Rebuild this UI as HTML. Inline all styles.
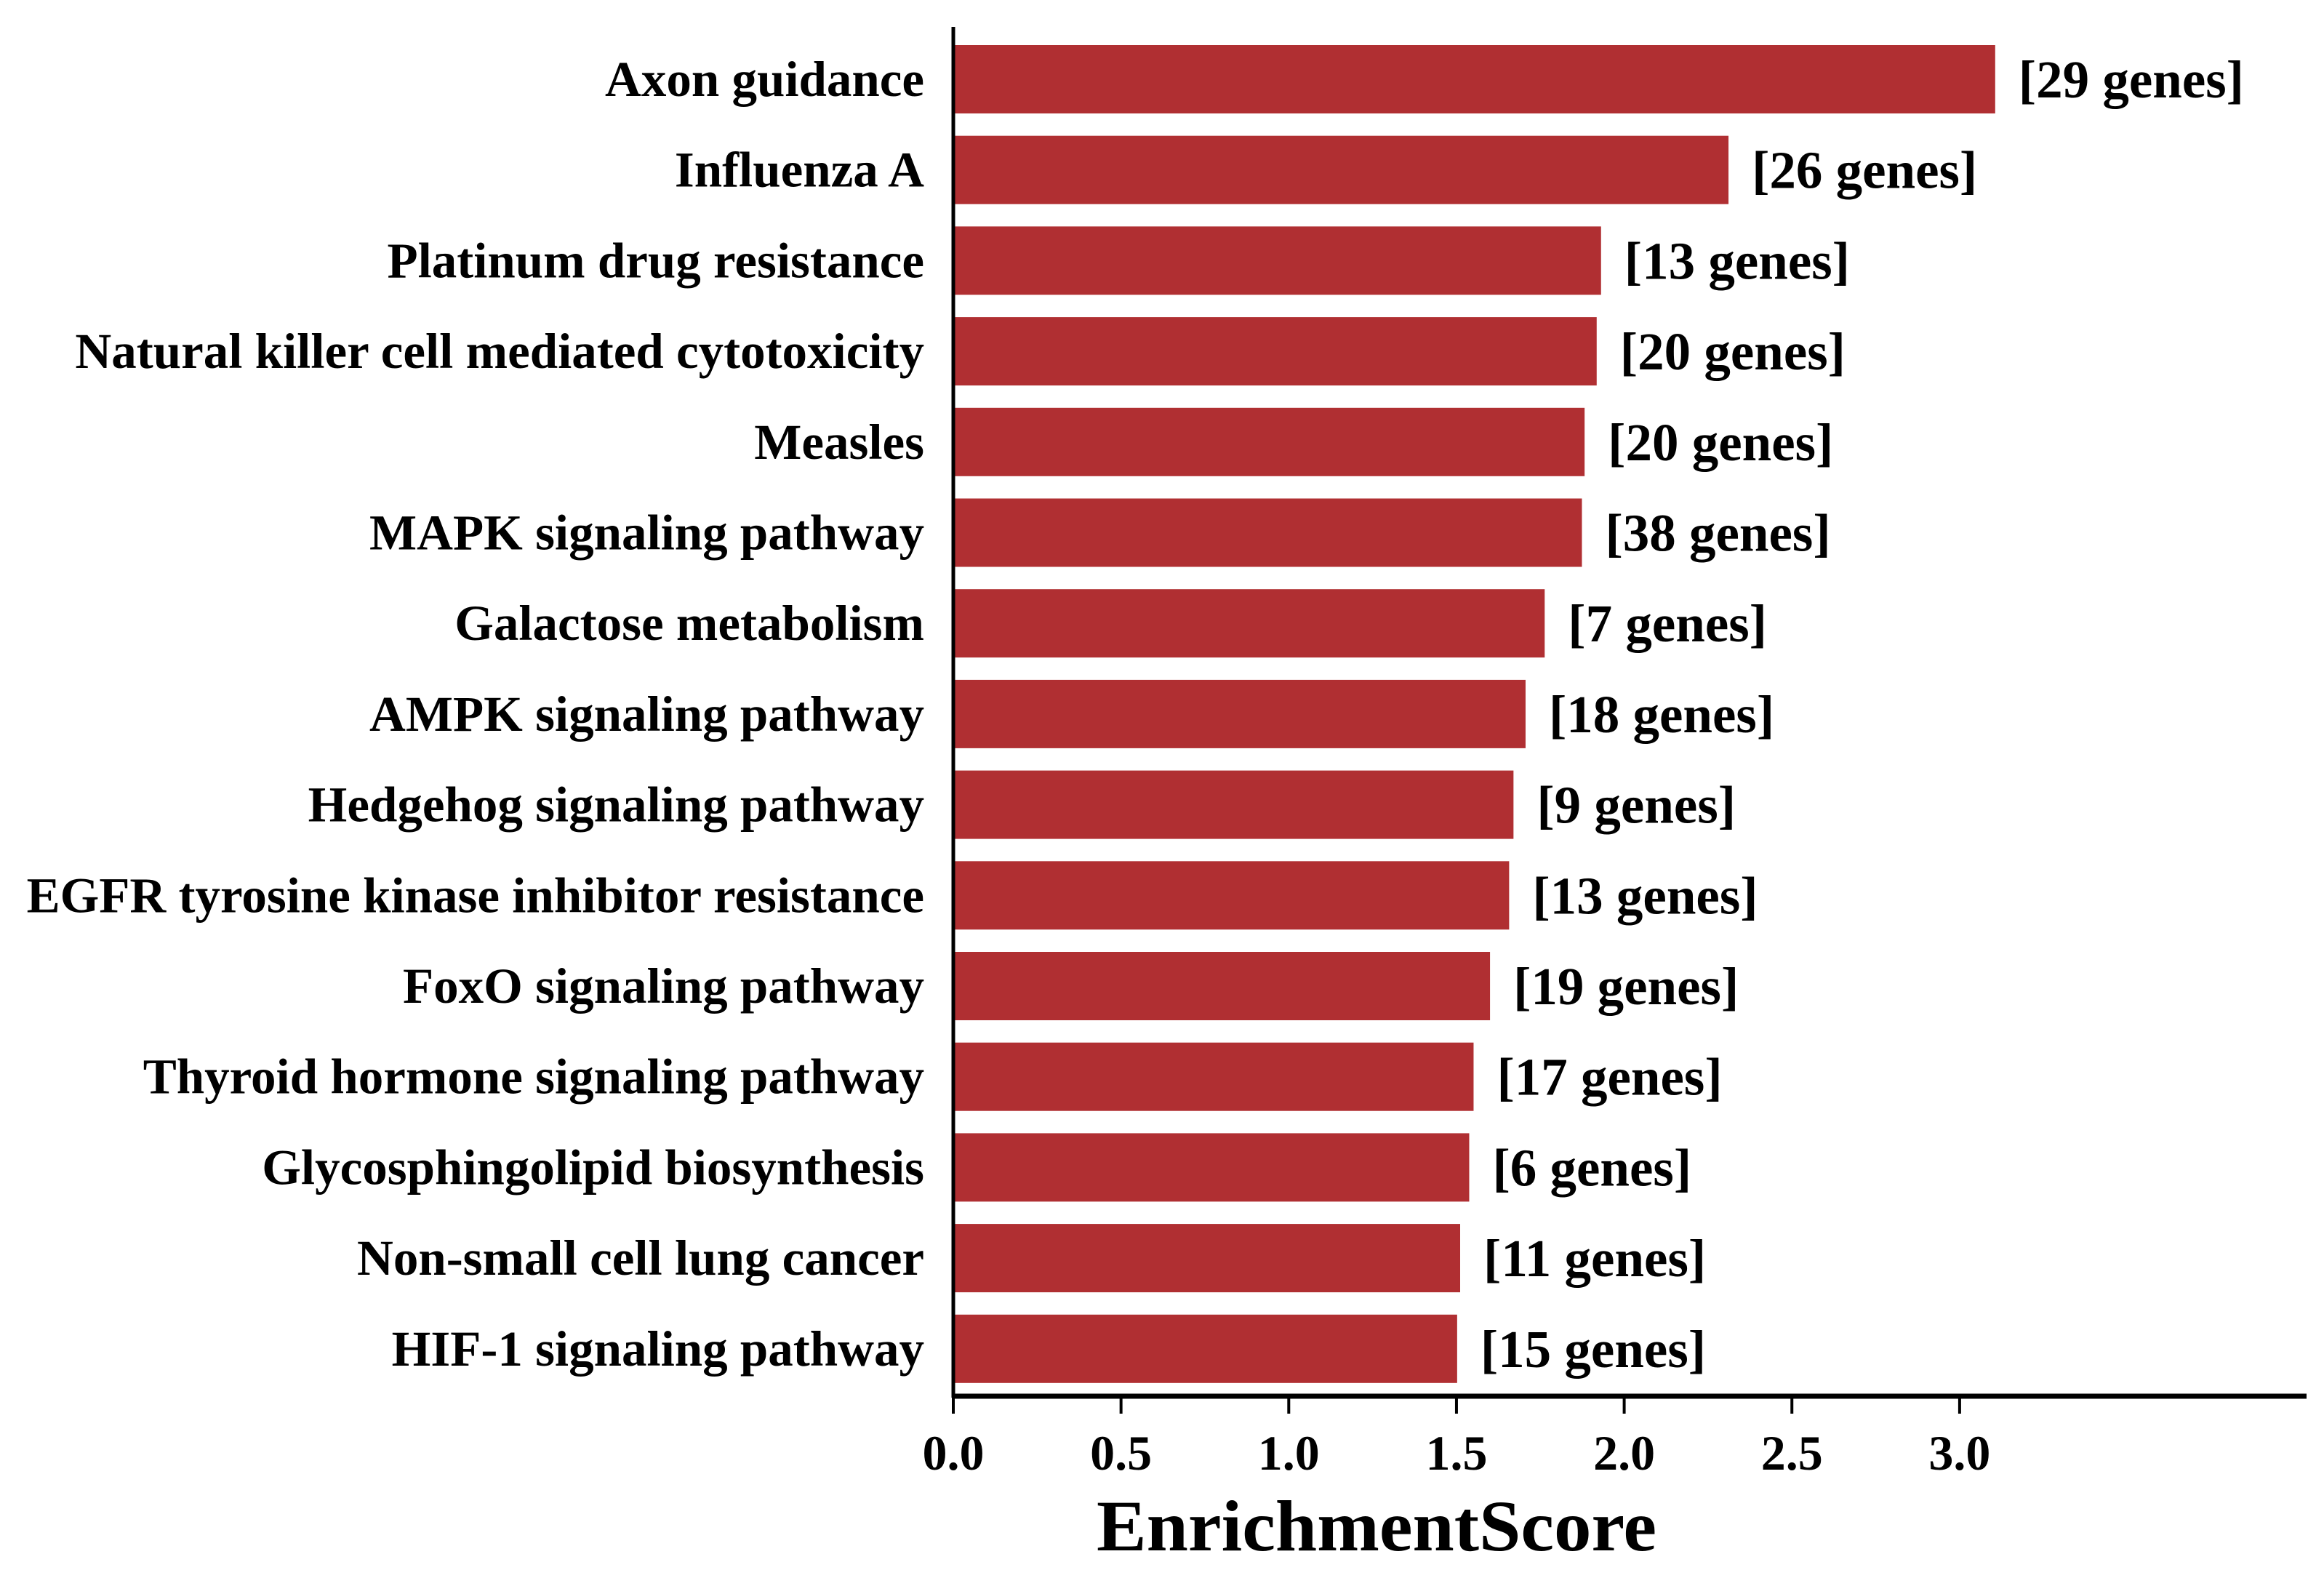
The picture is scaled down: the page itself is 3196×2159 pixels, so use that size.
<!DOCTYPE html>
<html><head><meta charset="utf-8">
<style>
html,body{margin:0;padding:0;background:#fff;}
svg{display:block;font-family:"Liberation Serif",serif;font-weight:bold;}
</style></head>
<body>
<svg id="chart" width="3196" height="2159" viewBox="0 0 3196 2159" xmlns="http://www.w3.org/2000/svg"></svg>
<script>
const categories = ["Axon guidance","Influenza A","Platinum drug resistance","Natural killer cell mediated cytotoxicity","Measles","MAPK signaling pathway","Galactose metabolism","AMPK signaling pathway","Hedgehog signaling pathway","EGFR tyrosine kinase inhibitor resistance","FoxO signaling pathway","Thyroid hormone signaling pathway","Glycosphingolipid biosynthesis","Non-small cell lung cancer","HIF-1 signaling pathway"];
const scores = [3.106,2.311,1.931,1.918,1.882,1.874,1.763,1.706,1.670,1.657,1.600,1.551,1.538,1.511,1.502];
const geneCounts = [29,26,13,20,20,38,7,18,9,13,19,17,6,11,15];
const tickValues = [0,0.5,1,1.5,2,2.5,3];
const tickLabels = ["0.0","0.5","1.0","1.5","2.0","2.5","3.0"];

const NS="http://www.w3.org/2000/svg";
const svg=document.getElementById('chart');
const x0=1311, unit=461.3;
const xs=v=>x0+v*unit;
const firstC=109, pitch=124.7, barH=94;
const yc=i=>firstC+i*pitch;
function mk(tag,attrs,parent){const e=document.createElementNS(NS,tag);for(const k in attrs)e.setAttribute(k,attrs[k]);(parent||svg).appendChild(e);return e;}

categories.forEach((c,i)=>{
  const r=mk('rect',{x:xs(0),y:yc(i)-barH/2,width:xs(scores[i])-xs(0),height:barH,fill:'#b02f32'});
  
  
  const t=mk('text',{x:1271,y:yc(i)+23,'text-anchor':'end','font-size':69,fill:'#000'});
  t.textContent=c;
  
  
  const g=mk('text',{x:xs(scores[i])+32,y:yc(i)+25,'font-size':73,fill:'#000'});
  g.textContent='['+geneCounts[i]+' genes]';
  
  
});

const ya=mk('line',{x1:x0,y1:37,x2:x0,y2:1922,stroke:'#000','stroke-width':5});


const xa=mk('line',{x1:x0-2,y1:1920,x2:3172,y2:1920,stroke:'#000','stroke-width':7});



tickValues.forEach((v,i)=>{
  const tk=mk('line',{x1:xs(v),y1:1920,x2:xs(v),y2:1944,stroke:'#000','stroke-width':4});
  
  
  const tl=mk('text',{x:xs(v),y:2021,'text-anchor':'middle','font-size':68,fill:'#000'});
  tl.textContent=tickLabels[i];
  
  
});

const title=mk('text',{x:1893,y:2132,'text-anchor':'middle','font-size':100,fill:'#000',textLength:770,lengthAdjust:'spacingAndGlyphs'});
title.textContent='EnrichmentScore';


</script>
</body></html>
